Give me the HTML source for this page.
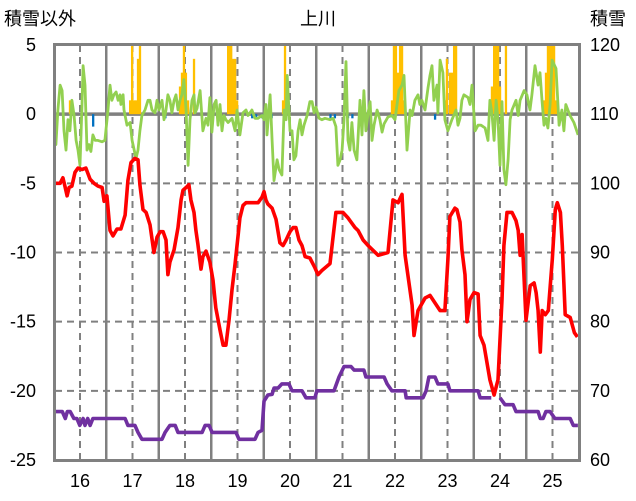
<!DOCTYPE html>
<html><head><meta charset="utf-8">
<style>
html,body{margin:0;padding:0;background:#fff;}
svg{display:block;font-family:"Liberation Sans","Noto Sans CJK JP",sans-serif;}
</style></head>
<body>
<svg id="chart" width="636" height="501" viewBox="0 0 636 501" xmlns="http://www.w3.org/2000/svg">
<defs><clipPath id="plotclip"><rect x="55" y="45" width="524" height="415"/></clipPath></defs>
<text x="318" y="25" font-size="18" text-anchor="middle" fill="#000">上川</text>
<text x="4" y="25" font-size="18" fill="#000">積雪以外</text>
<text x="590" y="25" font-size="18" fill="#000">積雪</text>
<g id="grid"></g>
<g id="bars" clip-path="url(#plotclip)"></g>
<g id="lines" clip-path="url(#plotclip)"></g>
<rect x="54.5" y="44.5" width="525" height="416" fill="none" stroke="#808080" stroke-width="3"/>
<g id="axes"></g>
</svg>
<script>
const leftTicks = [5,0,-5,-10,-15,-20,-25];
const rightTicks = [120,110,100,90,80,70,60];
const dayLabels = [16,17,18,19,20,21,22,23,24,25];
const redHours = [0.6,2.9,4.2,5.1,6.1,7,8.3,9.7,11.1,12.9,14.7,16.6,18.4,20.2,22.1,23,24.3,25.7,27.1,28.9,30.7,32.6,33.9,35.3,37.1,38.5,39.4,40.8,42.2,44,45.8,47.2,48.6,50,51.3,52.2,53.1,55,56.8,58.2,59.1,60.5,61.8,62.7,64.1,65,65.9,67.3,68.2,69.6,71.4,72.8,74.1,76,77.4,78.7,80.1,81.5,82.9,84.3,85.1,86.5,87.9,89.7,91.5,93.4,95.2,96.1,97,97.9,99.8,101.6,103.4,104.8,106.2,108,109.4,110.7,112.1,113.5,114.9,117.1,119.4,120.8,122.6,126.3,129,132.2,134.5,137.7,139.1,141.4,143.7,148.3,152.8,155.1,157.4,159.2,160.6,163.8,164.7,166.5,169.7,172,176.6,178.8,180.2,181.1,183.4,184.3,185.7,186.6,188,188.9,190.3,192.1,194,194.9,196.7,199.4,201.3,203.1,204.9,205.8,207.2,209.5,211.3,212.3,213.2,214.1,215.9,217.8,219.6,220.5,221.4,222.4,223.3,224.7,226.1,227.9,229.3,230.2,231.6,232.5,233.8,236.1,238,239.4];
const redValues = [-5,-5,-4.6,-5.2,-5.9,-5.3,-5.2,-4.2,-3.9,-4,-3.9,-4.7,-5,-5.2,-5.3,-6.3,-5.9,-8.4,-8.8,-8.3,-8.3,-7.3,-4.8,-3.5,-3.2,-3.3,-5.1,-6.9,-7.1,-8,-10,-8.9,-8.5,-8.5,-9.1,-11.6,-10.7,-9.8,-8.2,-6.2,-5.5,-5.3,-5.1,-6.2,-7.1,-8.4,-9.4,-11.2,-10.3,-9.9,-10.7,-12,-14,-15.6,-16.7,-16.7,-14.9,-12.7,-10.8,-8.7,-7.5,-6.6,-6.4,-6.4,-6.4,-6.4,-6,-5.6,-6.2,-6.5,-6.8,-7.6,-9.3,-9.5,-9.1,-8.5,-8.2,-8.2,-9.1,-9.5,-10.3,-10.4,-11.1,-11.6,-11.3,-10.8,-7.1,-7.1,-7.5,-8.2,-8.4,-9.1,-9.5,-10.2,-10,-6.2,-6.4,-5.8,-10.2,-13.8,-16,-14.2,-13.3,-13.1,-14.2,-14.2,-10.5,-7.4,-6.8,-6.9,-7.8,-9.8,-11.6,-15,-13.4,-12.9,-13,-16,-16.7,-19.2,-20.3,-19.2,-13.4,-9.5,-7.1,-7.1,-7.7,-8.4,-10.2,-8.7,-14.9,-12.4,-12.2,-12.9,-14.2,-17.2,-14.2,-14.5,-14.2,-10.5,-6.9,-6.4,-7.1,-9.5,-14.5,-14.7,-15.8,-16.1];
const snowHours = [0.6,3.9,5.3,6.2,7.5,9.2,10.6,11.9,13.4,14.3,15.5,16.6,17.9,19.3,21.1,32.6,33.9,37.1,38.5,40.3,44.9,49.5,50.9,53.1,55.5,56.8,67.8,69.2,71,72.4,83.3,84.7,86,92,93.4,95.2,96.1,97.9,99.8,100.7,102.5,104.3,107.5,108.9,113.5,115.3,119.4,120.3,126.3,128.1,130.4,132.7,135.9,137.3,141.8,142.7,151,152.4,154.6,160.6,161.1,168.8,170.2,171.5,174.3,175.6,180.2,181.1,194,194.9,200,202,204,206.3,210,211.3,221.4,222.4,223.7,225,226.9,229.1,236.1,237.5,239.6];
const snowValues = [67,67,66,67,67,66,66,65,66,65,66,65,66,66,66,66,65,65,64,63,63,63,64,65,65,64,64,65,65,64,64,63,63,63,64,64.3,68.5,69.4,69.5,70.4,70.4,71,71,70,70,69,69,70,70,70,72,73.5,73.5,73,73,72,72,71,70,70,69,69,70,72,72,71,71,70,70,69,69,null,69,68,68,67,67,66,66,67,67,66,66,65,65];
const otherHours = [0.1,1,1.9,2.9,3.8,4.7,5.6,6.5,7.4,8.3,9.3,10.2,11.1,12,12.9,13.4,14.3,15.2,16.1,17,17.9,18.9,20.2,22.1,23.4,24.8,25.7,26.6,27.5,28.5,29.4,30.3,30.7,31.7,32.1,33.5,34.9,35.8,37.6,38.5,39.4,40.3,41.7,43.1,44,44.9,46.3,47.2,48.1,49.5,50.4,51.3,52.2,53.1,54,55,55.9,56.8,57.7,58.6,59.5,60.5,61.4,62.3,63.2,64.1,64.6,65.5,66.9,68.2,69.6,70.5,71.4,72.3,73.3,74.2,75.1,76,76.9,77.8,78.7,79.7,81.5,82.9,83.8,85.1,86.5,87.9,88.8,90.6,92,93.4,95.2,96.1,97,97.5,98.9,99.8,100.7,102.1,103,104.3,105.3,106.2,106.7,108,108.9,109.8,110.7,111.7,112.6,113.5,114.4,115.8,117.1,118.1,119,119.9,121.3,122.6,124,126.3,127.7,129,129.9,130.9,131.8,132.7,133.6,134.5,135.4,136.3,137.3,138.6,140,140.9,141.8,142.7,143.7,144.6,145.5,146.4,147.8,149.1,150.1,151,152.8,154.6,156,157.8,159.2,160.1,161.5,162.9,163.8,165.1,166.5,167.4,168.3,169.7,171.1,172,172.9,173.8,175.2,175.6,176.6,177.9,178.8,180.2,182,183.9,184.8,185.7,186.6,187.5,189.4,190.3,191.2,192.6,194,195.3,197.2,198.5,199.4,200.3,201.3,202.2,203.1,204,204.9,205.8,206.7,207.7,208.6,209.5,211.3,212.3,213.2,215,216.3,217.7,218.6,220,221.4,222.3,223.2,224.1,225,225.9,226.9,227.8,229.6,231,232.3,233.2,234.1,236,237.8,239.7];
const otherValues = [1.2,-2.2,0.3,2.1,1.7,-1.2,-2.6,-0.4,-1.2,1,-0.1,-1.9,-2.6,-3.7,0.7,3.5,2.1,-2.6,-2.2,-2.7,-1.5,-1.9,-1.9,-2,-1.9,0.3,2.1,1,1.4,1.6,1,1.4,0.7,1.4,0.3,-0.8,-0.6,-1.9,-3.2,-2.6,-1.2,-0.1,0.3,1,1,0.3,0.1,1,0.3,1,-0.4,0.3,1.4,1,0.1,1,1.4,0.3,1,1.4,2.5,0.3,-3.7,-0.4,1,1.4,0.1,0.4,1.7,-1.2,-0.3,-0.8,1.2,-1.3,0.7,1,-0.8,0.7,-1.2,-0.1,-0.4,-0.6,-0.3,-1.2,0.3,-1.5,0.1,0.3,-0.1,0.3,-0.3,-0.3,-0.1,-0.4,0.7,-1.5,1.4,-1.9,-4.8,-3.3,-4,-4.4,0.3,-0.4,2.8,-1.2,-1.2,-3.3,-3,-1.2,-0.4,-1.5,-0.8,-0.1,0.9,0.9,0.1,0.5,-0.3,-0.4,-0.3,-0.4,-0.3,-0.9,-3.7,-3.3,-2.6,-0.4,3.8,-1.9,-2.6,-0.6,-2.6,-3.3,1,-1.5,1.7,-1.2,0.1,0.9,-1.9,-0.8,0.3,-0.4,-1.3,-0.7,-0.2,-0.1,-0.4,1.7,2.1,2.8,-2.6,0.3,-0.1,1,1.4,0.7,1,0.3,1.9,2.8,3.5,1,2.1,0.1,3.9,3,-0.4,-1.2,-0.4,0.3,-0.8,-0.3,1,1.4,1.2,0.7,2.1,-1.2,-0.8,-0.8,-1,-1.9,1,0.1,-1.9,1,-0.4,-3.7,0.9,-4,-5.1,-3.3,-0.4,0.3,1,-0.1,1,1.7,1.4,0.3,1.4,3.5,2.1,3,1,-0.8,-0.3,-1,0.7,3.9,3.3,-0.8,0.3,-1.2,0.7,-0.1,-0.6,-1.5];
const precipHours = [7.4,34.9,35.8,36.7,37.6,38.5,39.4,57.7,58.6,59.5,60.4,61.4,64.1,79.7,80.4,81.1,81.9,82.9,83.8,104.8,105.7,154.6,155.5,156.4,157.4,158.3,159.2,160.1,178.8,179.7,181.1,182,183,183.9,200.3,201.3,202.2,203.1,204,206.7,224.1,225,225.9,226.9,227.8,228.7,229.6];
const precipValues = [1,1,6,1,1,4,6,2,3,6,3,1,4,6,6,6,4,4,1,1,6,1,6,6,3,6,6,1,1,4,3,3,6,6,2,6,6,6,2,6,1,3,6,6,6,6,1];
const negHours = [18,51,90.7,92.5,95.3,99.6,126.5,128.5,134.5,136.5,174.3];
const negValues = [-0.9,-0.3,-0.3,-0.3,-0.3,-0.3,-0.3,-0.3,-0.3,-0.3,-0.4];

const NS='http://www.w3.org/2000/svg';
function xS(h){return 53.75 + h*2.1875;}
function yL(v){return 45 + (5 - v)*13.833;}
function yR(v){return 45 + (120 - v)*6.917;}
function mk(tag,attrs,parent){const e=document.createElementNS(NS,tag);for(const k in attrs)e.setAttribute(k,attrs[k]);parent.appendChild(e);return e;}
const grid=document.getElementById('grid'), bars=document.getElementById('bars'), lines=document.getElementById('lines'), axes=document.getElementById('axes');

// horizontal grid
leftTicks.forEach(function(t){
  if(t===5||t===-25)return;
  const y=yL(t);
  const l=mk('line',{x1:55,x2:579,y1:y,y2:y,stroke:'#808080','stroke-width':t===0?3.5:2,'stroke-dasharray':t===0?'':'7,5'},grid);
  
  
});
// vertical grid
for(let d=1; d<dayLabels.length; d++){
  const x=xS(d*24);
  const l=mk('line',{x1:x,x2:x,y1:45,y2:460,stroke:'#808080','stroke-width':2.5},grid);
  
  
}
dayLabels.forEach(function(d,i){
  const x=xS(i*24+12);
  const l=mk('line',{x1:x,x2:x,y1:45,y2:460,stroke:'#808080','stroke-width':2,'stroke-dasharray':'7,5'},grid);
  
  
  const t=mk('text',{x:x,y:487,'font-size':18,'text-anchor':'middle',fill:'#000'},axes);
  t.textContent=String(d);
  
  
});
leftTicks.forEach(function(v){
  const t=mk('text',{x:36,y:yL(v)+6,'font-size':18,'text-anchor':'end',fill:'#000'},axes);
  t.textContent=String(v);
  
  
});
rightTicks.forEach(function(v){
  const t=mk('text',{x:590,y:yR(v)+6,'font-size':18,'text-anchor':'start',fill:'#000'},axes);
  t.textContent=String(v);
  
  
});
// bars
precipHours.forEach(function(h,i){
  const y=yL(precipValues[i]);
  const b=mk('rect',{x:xS(h)-1.1,y:y,width:2.3,height:yL(0)-y,fill:'#ffc000'},bars);
  
  
});
negHours.forEach(function(h,i){
  const y=yL(negValues[i]);
  const b=mk('rect',{x:xS(h)-1.1,y:yL(0),width:2.3,height:y-yL(0),fill:'#0070c0'},bars);
  
  
});
function path(hs,vs,yf){
  let d='',pen=false;
  hs.forEach(function(h,i){
    const v=vs[i];
    if(v===null||v===undefined){pen=false;return;}
    d+=(pen?'L':'M')+xS(h).toFixed(1)+','+yf(v).toFixed(1);
    pen=true;
  });
  return d;
}
const g=mk('path',{d:path(otherHours,otherValues,yL),fill:'none',stroke:'#92d050','stroke-width':2.8,'stroke-linejoin':'round'},lines);


const r=mk('path',{d:path(redHours,redValues,yL),fill:'none',stroke:'#ff0000','stroke-width':3.6,'stroke-linejoin':'round'},lines);


const p=mk('path',{d:path(snowHours,snowValues,yR),fill:'none',stroke:'#7030a0','stroke-width':3.6,'stroke-linejoin':'round'},lines);


</script>
</body></html>
